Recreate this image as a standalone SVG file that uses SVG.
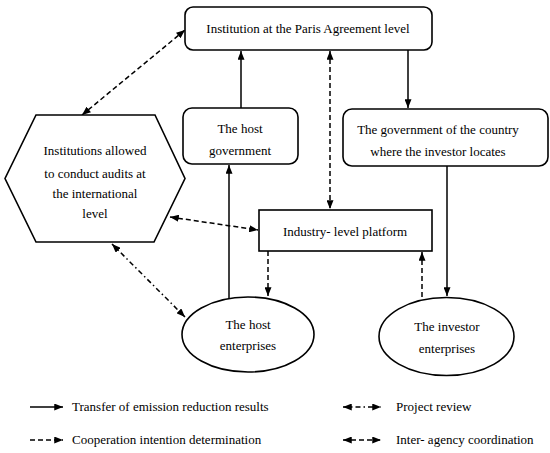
<svg xmlns="http://www.w3.org/2000/svg" width="550" height="453" viewBox="0 0 550 453">
<defs>
<marker id="ah" viewBox="0 0 10 8" refX="10" refY="4" markerWidth="9" markerHeight="7" markerUnits="userSpaceOnUse" orient="auto-start-reverse"><path d="M0,0 L10,4 L0,8 Z" fill="#000"/></marker>
</defs>
<style>
.n{fill:#fff;stroke:#000;stroke-width:1.6}
text{font-family:'Liberation Serif','DejaVu Serif',serif;font-size:13px;fill:#000;text-anchor:middle}
.lg{text-anchor:start}
.s{stroke:#000;stroke-width:1.5;fill:none}
.d{stroke:#000;stroke-width:1.5;fill:none;stroke-dasharray:5,3}
.dd{stroke:#000;stroke-width:1.5;fill:none;stroke-dasharray:5,3,1.5,3}
</style>
<rect width="550" height="453" fill="#fff"/>
<g id="connectors">
<line class="s" x1="241" y1="108" x2="241" y2="51" marker-end="url(#ah)"/>
<line class="s" x1="408" y1="50" x2="408" y2="108" marker-end="url(#ah)"/>
<line class="s" x1="447" y1="166" x2="447" y2="296" marker-end="url(#ah)"/>
<line class="s" x1="229" y1="298" x2="229" y2="165" marker-end="url(#ah)"/>
<line class="d" x1="330" y1="51" x2="330" y2="209" marker-start="url(#ah)" marker-end="url(#ah)"/>
<line class="d" x1="82" y1="115" x2="185" y2="30" marker-start="url(#ah)" marker-end="url(#ah)"/>
<line class="d" x1="170" y1="217" x2="258" y2="230" marker-start="url(#ah)" marker-end="url(#ah)"/>
<line class="dd" x1="112" y1="244" x2="185" y2="317" marker-start="url(#ah)" marker-end="url(#ah)"/>
<line class="d" x1="268" y1="251" x2="268" y2="296" marker-end="url(#ah)"/>
<line class="d" x1="422" y1="297" x2="422" y2="252" marker-end="url(#ah)"/>
</g>
<g id="paris"><rect class="n" x="185" y="7" width="247" height="43" rx="8"/><text x="308" y="33" font-family="Liberation Serif, serif">Institution at the Paris Agreement level</text></g>
<g id="hostgov"><rect class="n" x="183" y="108" width="115" height="56" rx="9"/><text x="240" y="133">The host</text><text x="240" y="155">government</text></g>
<g id="invgov"><rect class="n" x="343" y="109" width="205" height="57" rx="9"/><text x="438" y="134">The government of the country</text><text x="438" y="156">where the investor locates</text></g>
<g id="audit"><polygon class="n" points="36,115 155,115 185,178.5 154,242 36,242 5,178.5"/><text x="95" y="155">Institutions allowed</text><text x="95" y="178">to conduct audits at</text><text x="95" y="198">the international</text><text x="95" y="218">level</text></g>
<g id="platform"><rect class="n" x="259" y="210" width="173" height="41"/><text x="345" y="236">Industry- level platform</text></g>
<g id="hostent"><ellipse class="n" cx="248" cy="334.5" rx="66" ry="37.5"/><text x="248" y="329">The host</text><text x="248" y="350">enterprises</text></g>
<g id="invent"><ellipse class="n" cx="446.5" cy="336.5" rx="67.5" ry="39"/><text x="447" y="331">The investor</text><text x="447" y="353">enterprises</text></g>
<g id="legend">
<line class="s" x1="30" y1="407" x2="63" y2="407" marker-end="url(#ah)"/>
<text class="lg" x="72" y="411">Transfer of emission reduction results</text>
<line class="d" x1="30" y1="440" x2="63" y2="440" marker-end="url(#ah)"/>
<text class="lg" x="72" y="444">Cooperation intention determination</text>
<line class="dd" x1="343" y1="407" x2="381" y2="407" marker-start="url(#ah)" marker-end="url(#ah)"/>
<text class="lg" x="396" y="411">Project review</text>
<line class="d" x1="343" y1="440" x2="381" y2="440" marker-start="url(#ah)" marker-end="url(#ah)"/>
<text class="lg" x="396" y="444">Inter- agency coordination</text>
</g>
</svg>
